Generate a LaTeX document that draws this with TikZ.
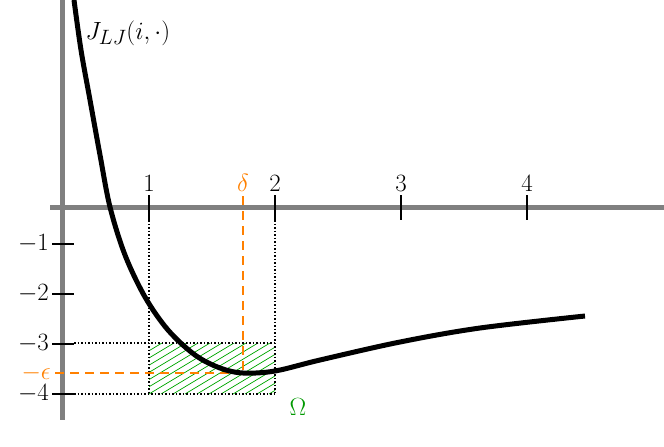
\documentclass[tikz,border=0pt]{standalone}
\begin{document}
\begin{tikzpicture}[x=1pt,y=-1pt,
  axis/.style={line width=5pt,draw=gray},
  tk/.style={line width=2.5pt},
  dots/.style={dotted,line width=1.5pt},
  org/.style={draw=orange,line width=1.8pt,dash pattern=on 9pt off 6pt},
  lbl/.style={font=\fontsize{29}{34}\selectfont}]
\useasboundingbox (0,0) rectangle (664,447);
\begin{scope}
\clip (149,343) rectangle (275,394);
\foreach \i in {-6,...,14}
  \draw[green!65!black,line width=0.7pt] (149+\i*12,394) -- ++(100,-60);
\end{scope}
\draw[axis] (50,207) -- (664,207);
\draw[axis] (62,0) -- (62,420);
\foreach \x/\t in {149/1,275/2,401/3,527/4}{
  \draw[tk] (\x,195) -- (\x,220);
  \node[lbl,anchor=south,inner sep=1pt] (x\t) at (\x,193) {$\t$};}
\foreach \y/\t in {244/1,294/2,344/3,394/4}{
  \draw[tk] (52,\y) -- (74,\y);
  \node[lbl,anchor=east,inner sep=1pt] (y\t) at (50,\y) {$-\t$};}
\draw[dots] (149,220) -- (149,394);
\draw[dots] (275,220) -- (275,394);
\draw[dots] (74,343) -- (275,343);
\draw[dots] (74,394) -- (275,394);
\draw[org] (243,196) -- (243,373);
\draw[org] (55,373) -- (243,373);
\node[lbl,text=orange,anchor=south,inner sep=1pt] (d) at (243,193) {$\delta$};
\node[lbl,text=orange,anchor=east,inner sep=1pt] (e) at (52,373) {$-\epsilon$};
\node[lbl,text=green!60!black] (om) at (298,407) {$\Omega$};
\node[lbl,anchor=west] (J) at (82,33) {$J_{LJ}(i,\cdot)$};
\draw[line width=5pt] plot[smooth,tension=0.55] coordinates{(74,0) (81,50) (90,100) (100,155) (110,207) (125,255) (145,297) (168,330) (195,355) (220,368) (243,373) (275,371) (320,360) (400,342) (480,328) (585,316)};
\end{tikzpicture}
\end{document}
